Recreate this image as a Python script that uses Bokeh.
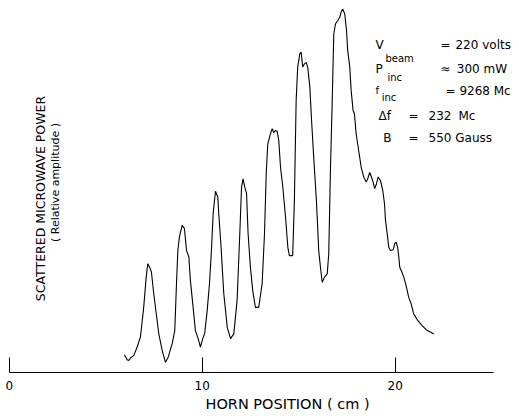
import math
from bokeh.plotting import figure
from bokeh.models import Range1d, FixedTicker, Title
from bokeh.core.properties import value
from bokeh.embed import file_html
from bokeh.resources import INLINE

# Horn position (cm) and scattered microwave power (relative amplitude, peak ~100)
horn_cm = [5.97, 6.11, 6.20, 6.28, 6.46, 6.63, 6.80, 6.97, 7.10, 7.18,
           7.28, 7.37, 7.49, 7.62, 7.75, 7.93, 8.10, 8.24, 8.45, 8.58,
           8.67, 8.74, 8.82, 8.96, 9.08, 9.19, 9.31, 9.39, 9.51, 9.65,
           9.79, 9.91, 10.03, 10.13, 10.26, 10.38, 10.48, 10.57, 10.69, 10.81,
           10.86, 10.98, 11.12, 11.30, 11.47, 11.64, 11.81, 11.95, 12.04, 12.12,
           12.21, 12.30, 12.38, 12.50, 12.62, 12.76, 12.93, 13.11, 13.23, 13.32,
           13.40, 13.54, 13.63, 13.71, 13.80, 13.89, 13.97, 14.06, 14.18, 14.32,
           14.44, 14.52, 14.69, 14.78, 14.87, 14.95, 15.06, 15.13, 15.21, 15.30,
           15.39, 15.47, 15.58, 15.66, 15.78, 15.92, 16.04, 16.13, 16.22, 16.34,
           16.48, 16.56, 16.65, 16.74, 16.82, 16.91, 17.03, 17.13, 17.20, 17.28,
           17.39, 17.48, 17.54, 17.65, 17.72, 17.82, 17.89, 17.98, 18.11, 18.24,
           18.37, 18.50, 18.58, 18.68, 18.77, 18.86, 18.94, 19.03, 19.12, 19.24,
           19.36, 19.45, 19.50, 19.59, 19.67, 19.76, 19.90, 19.98, 20.05, 20.13,
           20.19, 20.24, 20.33, 20.45, 20.59, 20.70, 20.83, 20.96, 21.17, 21.40,
           21.62, 21.83, 22.00]
power_rel = [4.9, 3.5, 3.3, 4.0, 4.7, 7.0, 9.7, 17.9, 26.2, 29.9,
             28.9, 27.6, 21.7, 16.2, 10.7, 6.0, 2.8, 4.2, 8.0, 11.5,
             24.5, 33.5, 37.2, 40.4, 39.6, 33.5, 31.7, 25.3, 19.0, 11.5,
             9.3, 7.0, 9.3, 10.7, 17.0, 24.5, 33.5, 43.7, 49.8, 48.2,
             43.7, 34.4, 21.7, 12.4, 9.3, 10.6, 19.8, 38.2, 50.9, 53.2,
             50.9, 49.2, 38.2, 28.9, 22.5, 17.9, 17.9, 24.5, 38.2, 54.7,
             62.8, 65.6, 67.0, 65.9, 66.5, 66.2, 63.7, 56.4, 50.9, 42.7,
             34.4, 32.1, 32.1, 47.3, 74.7, 83.9, 87.6, 88.0, 83.9, 84.8,
             85.2, 83.9, 78.4, 70.1, 59.1, 47.3, 33.5, 28.9, 24.8, 26.2,
             27.1, 32.6, 56.4, 74.7, 93.0, 95.8, 96.7, 97.6, 99.0, 99.9,
             98.5, 94.0, 88.5, 83.9, 77.5, 72.0, 71.1, 65.6, 61.0, 56.4,
             53.7, 52.3, 53.2, 55.0, 53.7, 52.3, 50.5, 51.8, 53.7, 52.7,
             50.0, 46.3, 41.8, 38.1, 34.4, 33.5, 33.7, 35.4, 35.8, 34.4,
             31.7, 28.9, 27.8, 26.2, 23.4, 20.7, 18.9, 16.1, 14.3, 12.9,
             11.7, 11.1, 10.6]

tick_values = [0, 10, 20]
tick_labels = ["0", "10", "20"]

FONT = value("DejaVu Sans")

p = figure(frame_width=503, frame_height=364, output_backend="svg", toolbar_location=None,
           x_range=Range1d(-0.036, 26.03), y_range=Range1d(0, 100),
           y_axis_type=None,
           min_border_left=8, min_border_right=0, min_border_top=8,
           min_border_bottom=0)
p.outline_line_color = None
p.grid.visible = False
p.background_fill_color = "white"
p.border_fill_color = "white"

ax = p.xaxis[0]
ax.ticker = FixedTicker(ticks=tick_values, minor_ticks=[])
ax.bounds = (0, 25.1)
ax.major_tick_in = 15
ax.major_tick_out = 0
ax.minor_tick_in = 0
ax.minor_tick_out = 0
ax.axis_line_width = 1.2
ax.axis_line_color = "black"
ax.major_tick_line_color = "black"
ax.major_tick_line_width = 1
ax.major_label_overrides = {t: s for t, s in zip(tick_values, tick_labels)}
ax.major_label_text_font = "DejaVu Sans"
ax.major_label_text_font_size = "12px"
ax.major_label_text_color = "black"
ax.major_label_standoff = 8

# x-axis caption placed below the axis, starting under the 10 cm tick
p.add_layout(Title(text="HORN POSITION ( cm )", align="left", offset=197,
                   text_font="DejaVu Sans", text_font_size="14.5px",
                   text_font_style="normal", text_color="black", standoff=2), "below")

# the trace
p.line(horn_cm, power_rel, line_color="black", line_width=1.1)

# y label (two rotated lines inside the plot area)
p.text(x=[1.60], y=[47.8], text=["SCATTERED MICROWAVE POWER"], angle=math.pi / 2,
       text_font=FONT, text_font_size="12.5px", text_align="center",
       text_baseline="middle", text_color="black")
p.text(x=[2.38], y=[52.2], text=["( Relative amplitude )"], angle=math.pi / 2,
       text_font=FONT, text_font_size="11px", text_align="center",
       text_baseline="middle", text_color="black")

# parameter block: main-size pieces
main_x = [18.98, 22.35, 18.98, 22.35, 22.61, 23.33, 19.14, 20.69, 21.73, 23.28, 19.39, 20.69, 21.73]
main_y = [90.1, 90.1, 83.3, 83.3, 77.2, 77.2, 70.6, 70.6, 70.6, 70.6, 64.3, 64.3, 64.3]
main_t = ["V", "=", "P", "\u2248", "=", "9268  Mc", "\u0394f", "=", "232", "Mc", "B", "=", "550 Gauss"]
p.text(x=main_x, y=main_y, text=main_t, text_font=FONT, text_font_size="12px",
       text_align="left", text_baseline="alphabetic", text_color="black")
# right-aligned values on the top two rows
p.text(x=[26.0, 26.0], y=[90.1, 83.3], text=["220 volts", "300  mW"], text_font=FONT,
       text_font_size="12px", text_align="right", text_baseline="alphabetic",
       text_color="black")
# small "f"
p.text(x=[18.98], y=[77.6], text=["f"], text_font=FONT, text_font_size="10px",
       text_align="left", text_baseline="alphabetic", text_color="black")
# subscripts
p.text(x=[19.50, 19.60, 19.30], y=[86.3, 81.1, 75.6], text=["beam", "inc", "inc"],
       text_font=FONT, text_font_size="10px", text_align="left",
       text_baseline="alphabetic", text_color="black")

open("out.html", "w").write(file_html(p, INLINE))
